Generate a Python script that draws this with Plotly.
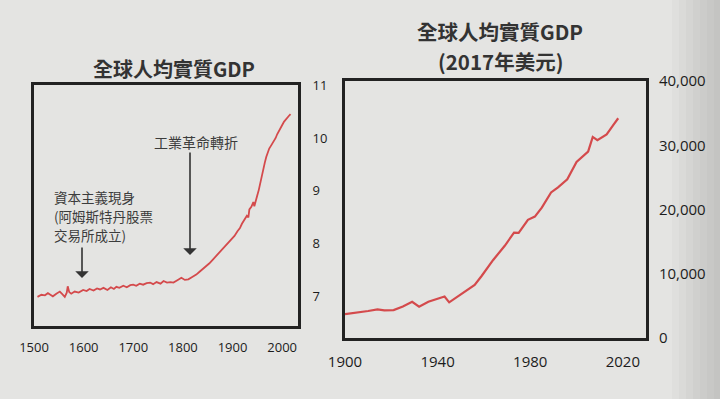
import plotly.graph_objects as go

# ---------------- data ----------------
# Left chart: log of world real GDP per capita, 1500-2018
left_years = [1507, 1515, 1522, 1528, 1533, 1538, 1545, 1552, 1557, 1562, 1566, 1568, 1571, 1575,
              1582, 1590, 1599, 1606, 1612, 1620, 1627, 1633, 1640, 1648, 1655, 1661, 1666, 1672,
              1680, 1687, 1694, 1700, 1706, 1713, 1720, 1727, 1734, 1740, 1747, 1755, 1761, 1768,
              1775, 1781, 1788, 1797, 1804, 1811, 1818, 1827, 1833, 1840, 1847, 1853, 1860, 1867,
              1873, 1880, 1886, 1892, 1898, 1904, 1910, 1915, 1919, 1924, 1929, 1932, 1934, 1938,
              1942, 1944, 1947, 1950, 1953, 1956, 1959, 1962, 1965, 1968, 1971, 1974, 1978, 1982,
              1987, 1990, 1992, 1995, 1998, 2001, 2004, 2007, 2010, 2013, 2017]
left_values = [7.00, 7.04, 7.03, 7.07, 7.04, 7.01, 7.06, 7.10, 7.05, 7.00, 7.08, 7.20, 7.09, 7.06,
               7.10, 7.08, 7.13, 7.11, 7.15, 7.12, 7.16, 7.14, 7.17, 7.13, 7.18, 7.15, 7.19, 7.17,
               7.21, 7.18, 7.22, 7.23, 7.21, 7.25, 7.23, 7.26, 7.27, 7.24, 7.28, 7.25, 7.30, 7.27,
               7.28, 7.27, 7.31, 7.36, 7.32, 7.33, 7.37, 7.42, 7.47, 7.52, 7.58, 7.63, 7.70, 7.77,
               7.83, 7.89, 7.96, 8.03, 8.09, 8.15, 8.24, 8.30, 8.38, 8.46, 8.53, 8.50, 8.65, 8.70,
               8.79, 8.71, 8.84, 8.92, 9.02, 9.16, 9.30, 9.42, 9.53, 9.64, 9.72, 9.80, 9.86, 9.92,
               10.00, 10.07, 10.10, 10.16, 10.20, 10.26, 10.31, 10.35, 10.38, 10.41, 10.45]
left_xticks = [1500, 1600, 1700, 1800, 1900, 2000]
left_yticks = [7, 8, 9, 10, 11]

# Right chart: world real GDP per capita (2017 USD), 1900-2018
right_years = [1900, 1905, 1910, 1914, 1917, 1921, 1925, 1929, 1932, 1936, 1940, 1943, 1945, 1949,
               1953, 1956, 1959, 1964, 1969, 1973, 1975, 1979, 1982, 1985, 1989, 1992, 1996, 2000,
               2005, 2007, 2009, 2011, 2013, 2016, 2018]
right_values = [3700, 3900, 4200, 4450, 4300, 4340, 4900, 5630, 4880, 5650, 6100, 6450, 5550, 6500,
                7450, 8250, 9650, 12150, 14350, 16400, 16350, 18400, 18900, 20300, 22650, 23450,
                24700, 27400, 29000, 31300, 30800, 31200, 31700, 33200, 34200]
right_xticks = [1900, 1940, 1980, 2020]
right_yticks = [0, 10000, 20000, 30000, 40000]

left_title = "全球人均實質GDP"
right_title_lines = ["全球人均實質GDP", "(2017年美元)"]
note_capitalism_lines = ["資本主義現身", "(阿姆斯特丹股票", "交易所成立)"]
note_industrial = "工業革命轉折"

# ---------------- layout helpers ----------------
W, H = 720, 399
def PX(x):
    return x / W
def PY(y):
    return 1 - y / H

BG = "#e4e4e2"
INK = "#222222"
RED = "#d44a4c"
CJK = "Noto Sans CJK TC"
TICK = "#1c1c1c"

fig = go.Figure()
fig.add_trace(go.Scatter(x=left_years, y=left_values, mode="lines",
                         line=dict(color=RED, width=1.8), xaxis="x", yaxis="y",
                         showlegend=False, hoverinfo="skip"))
fig.add_trace(go.Scatter(x=right_years, y=right_values, mode="lines",
                         line=dict(color=RED, width=2.2), xaxis="x2", yaxis="y2",
                         showlegend=False, hoverinfo="skip"))

frame = dict(showline=True, mirror=True, linewidth=2.8, linecolor=INK,
             showgrid=False, zeroline=False, ticks="", automargin=False)

fig.update_layout(
    template="none",
    width=W, height=H,
    margin=dict(l=0, r=0, t=0, b=0, pad=0, autoexpand=False),
    paper_bgcolor=BG, plot_bgcolor=BG,
    font=dict(family=CJK, color=INK),
    xaxis=dict(domain=[PX(34), PX(298)], range=[1500, 2032], tickvals=left_xticks,
               tickfont=dict(size=13, family="Open Sans", color=TICK),
               ticklabelstandoff=7, anchor="y", **frame),
    yaxis=dict(domain=[PY(326), PY(85)], range=[6.45, 11.0], tickvals=left_yticks,
               side="right", tickfont=dict(size=13, family="Open Sans", color=TICK),
               ticklabelstandoff=9, anchor="x", **frame),
    xaxis2=dict(domain=[PX(345), PX(646)], range=[1900, 2030], tickvals=right_xticks,
                tickfont=dict(size=15, family="Open Sans", color=TICK),
                ticklabelstandoff=8, anchor="y2", **frame),
    yaxis2=dict(domain=[PY(338), PY(81)], range=[0, 40000], tickvals=right_yticks,
                tickformat=",", side="right",
                tickfont=dict(size=15, family="Open Sans", color=TICK),
                ticklabelstandoff=7, anchor="x2", **frame),
)

annotations = [
    dict(text=f"<b>{left_title}</b>", x=PX(174), y=PY(69), xref="paper", yref="paper",
         showarrow=False, font=dict(size=20, family=CJK, color="#333"),
         xanchor="center", yanchor="middle"),
    dict(text=note_industrial, x=PX(196), y=PY(142), xref="paper", yref="paper",
         showarrow=False, font=dict(size=14, family=CJK, color="#3c3c3c"),
         xanchor="center", yanchor="middle"),
    dict(text="", x=PX(82), y=PY(278), xref="paper", yref="paper", showarrow=True,
         ax=0, ay=-32, axref="pixel", ayref="pixel", arrowhead=1, arrowsize=1.4,
         arrowwidth=1.6, arrowcolor="#333"),
    dict(text="", x=PX(190), y=PY(255), xref="paper", yref="paper", showarrow=True,
         ax=0, ay=-104, axref="pixel", ayref="pixel", arrowhead=1, arrowsize=1.4,
         arrowwidth=1.6, arrowcolor="#333"),
]
for i, line in enumerate(right_title_lines):
    annotations.append(dict(text=f"<b>{line}</b>", x=PX(500), y=PY(31 + 30 * i),
                            xref="paper", yref="paper", showarrow=False,
                            font=dict(size=20.5, family=CJK, color="#333"),
                            xanchor="center", yanchor="middle"))
for i, line in enumerate(note_capitalism_lines):
    annotations.append(dict(text=line, x=PX(52), y=PY(197 + 19 * i),
                            xref="paper", yref="paper", showarrow=False,
                            font=dict(size=13.5, family=CJK, color="#3c3c3c"),
                            xanchor="left", yanchor="middle"))
fig.update_layout(annotations=annotations)

# soft page shadow along the right edge (photo lighting)
shapes = []
for i in range(7):
    x0 = 672 + i * 7
    shapes.append(dict(type="rect", xref="paper", yref="paper", x0=PX(x0), x1=1.0,
                       y0=0, y1=1, line=dict(width=0), fillcolor="#707070",
                       opacity=0.045, layer="below"))
fig.update_layout(shapes=shapes)

fig.write_html("out.html", config={"displayModeBar": False},
               post_script="document.body.style.margin='0';document.body.style.background='%s';" % BG)
